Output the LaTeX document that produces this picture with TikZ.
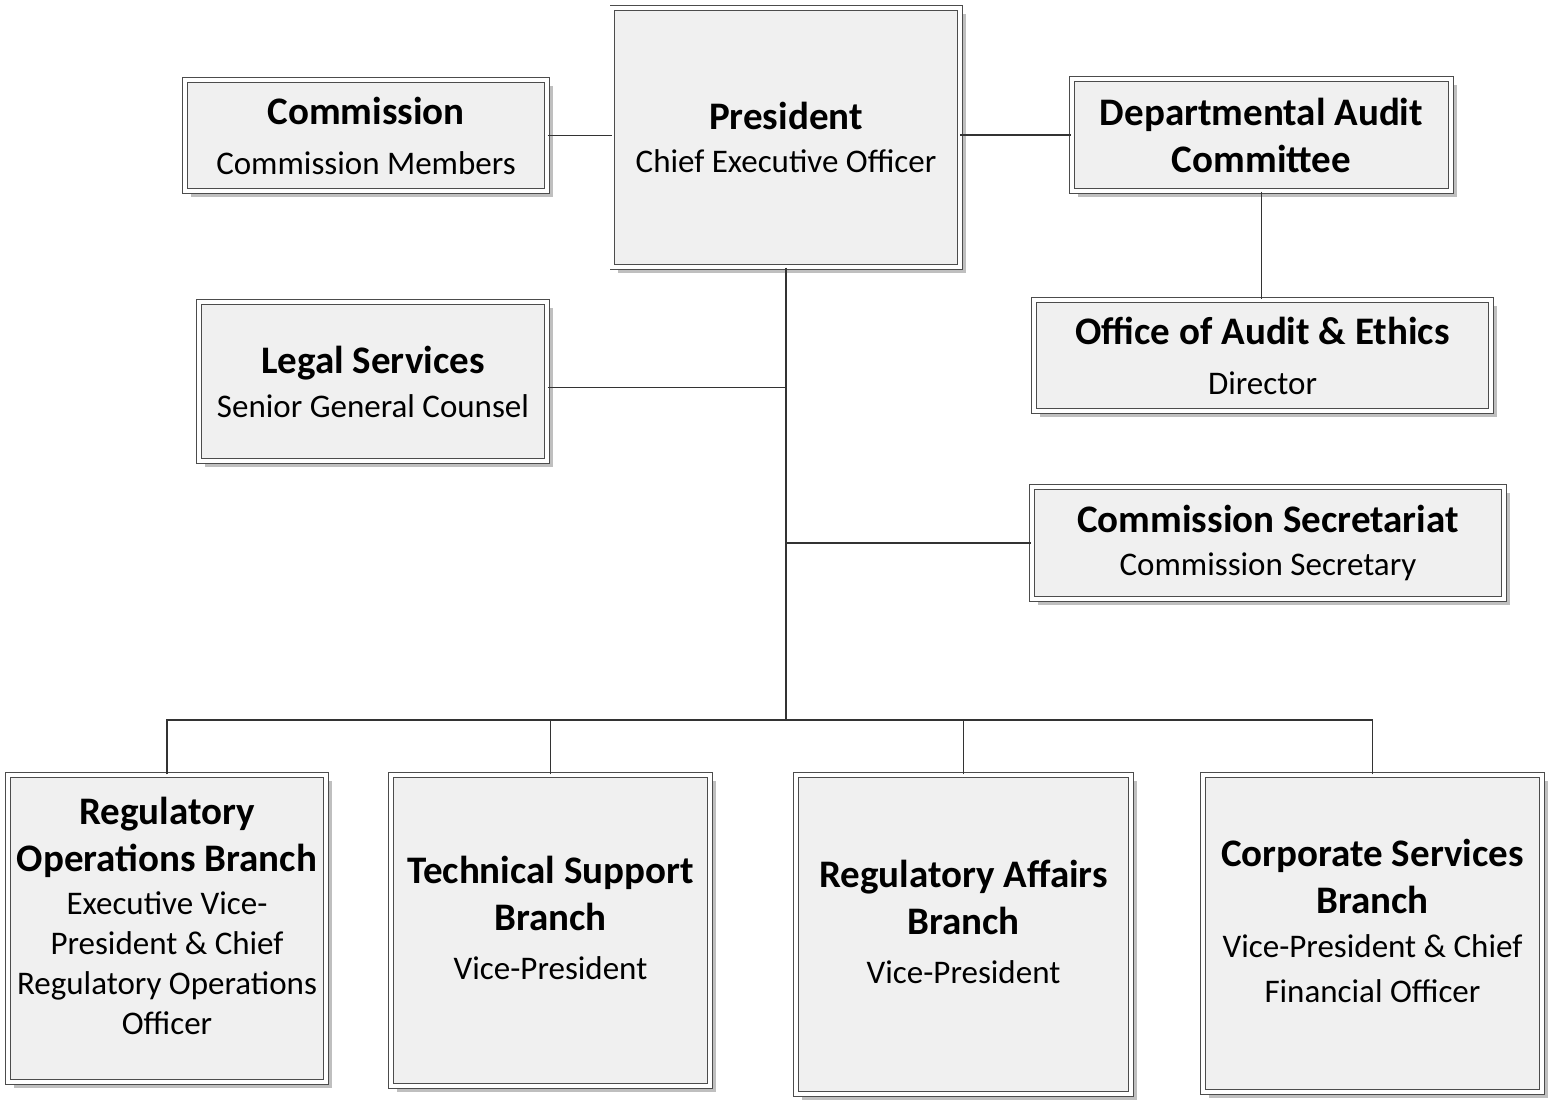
\documentclass[tikz,border=0pt]{standalone}
\usepackage{fontspec}
\setmainfont{Carlito}
\usetikzlibrary{shadows}

\newcommand\unithead[1]{{\bfseries\fontsize{19.5}{23.5}\selectfont #1}}

\begin{document}
\begin{tikzpicture}[
		x=0.5pt,
		y=-0.5pt,
		font=\fontsize{16.5}{20}\selectfont,
		unit/.style={draw=black!70,double=white,double distance=2pt,fill=black!6,
			align=center,inner sep=0pt,
			drop shadow={shadow xshift=3pt,shadow yshift=-3pt,fill=black!50}},
		link/.style={draw=black!80,line width=0.9pt}
		]
		
		\useasboundingbox (0,0) rectangle (1554,1105);
		
		% top row
		\node[unit,minimum width=173.7pt,minimum height=129.7pt] (pres) at (786,137.5)
		{\unithead{President}\\[1.5pt]Chief Executive Officer};
		
		\node[unit,minimum width=181.2pt,minimum height=55.7pt] (comm) at (366,135.5)
		{\unithead{Commission}\\[5pt]Commission Members};
		
		\node[unit,minimum width=189.7pt,minimum height=56.2pt] (audit) at (1261.5,135)
		{\unithead{Departmental Audit}\\[3.5pt]\unithead{Committee}};
		
		\node[unit,minimum width=228.7pt,minimum height=55.7pt] (ethics) at (1262.5,355.5)
		{\unithead{Office of Audit \& Ethics}\\[5pt]Director};
		
		% middle
		\node[unit,minimum width=174.2pt,minimum height=79.7pt] (legal) at (373,381.5)
		{\unithead{Legal Services}\\[2pt]Senior General Counsel};
		
		\node[unit,minimum width=236.2pt,minimum height=56.2pt] (secr) at (1268,543)
		{\unithead{Commission Secretariat}\\[1.5pt]Commission Secretary};
		
		% branches
		\node[unit,minimum width=159.2pt,minimum height=153.7pt] (regops) at (167,928.5)
		{\unithead{Regulatory}\\[3.5pt]\unithead{Operations Branch}\\[1.5pt]
			Executive Vice-\\President \& Chief\\Regulatory Operations\\Officer\\[-7pt]\mbox{}};
		
		\node[unit,minimum width=159.7pt,minimum height=155.7pt] (techsup) at (550.5,930.5)
		{\unithead{Technical Support}\\[3.5pt]\unithead{Branch}\\[4.5pt]Vice-President\\[-7pt]\mbox{}};
		
		\node[unit,minimum width=167.7pt,minimum height=159.7pt] (regaff) at (963.5,934.5)
		{\unithead{Regulatory Affairs}\\[3.5pt]\unithead{Branch}\\[4.5pt]Vice-President\\[-7pt]\mbox{}};
		
		\node[unit,minimum width=169.7pt,minimum height=158.7pt] (corpserv) at (1372.5,933.5)
		{\unithead{Corporate Services}\\[3.5pt]\unithead{Branch}\\[2pt]Vice-President \& Chief\\[2.5pt]Financial Officer\\[-7pt]\mbox{}};
		
		% connectors
		\coordinate (bus) at (786,720);
		\coordinate (legaljoin) at ([yshift=-3pt]legal.east);
		
		\draw[link] (comm.east) -- (comm.east -| pres.west);
		\draw[link] (pres.east |- audit.west) -- (audit.west);
		\draw[link] (audit.south) -- (audit.south |- ethics.north);
		\draw[link] (pres.south) -- (bus);
		\draw[link] (legaljoin) -- (legaljoin -| bus);
		\draw[link] (secr.west -| bus) -- (secr.west);
		\foreach \b in {regops,techsup,regaff,corpserv}
		\draw[link] (\b.north) |- (bus);
		
	\end{tikzpicture}
\end{document}
